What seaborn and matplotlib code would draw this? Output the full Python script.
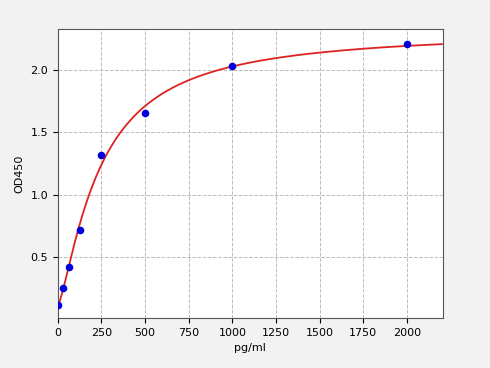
import numpy as np
import pandas as pd
import matplotlib
matplotlib.use("Agg")
import matplotlib.pyplot as plt
import seaborn as sns

conc = [0, 31.25, 62.5, 125, 250, 500, 1000, 2000]
od450 = [0.115, 0.25, 0.42, 0.72, 1.32, 1.655, 2.03, 2.21]

x = np.array(conc, float)
y = np.array(od450, float)

def f(p, xx):
    A, B, C, D = p
    return D + (A - D) / (1.0 + (np.maximum(xx, 1e-9) / C) ** B)

# Levenberg-Marquardt fit of a 4-parameter logistic curve
p = np.array([0.1, 1.0, 300.0, 2.5])
lam = 1e-3
for _ in range(500):
    r = y - f(p, x)
    J = np.zeros((len(x), 4))
    for i in range(4):
        dp = np.zeros(4); dp[i] = 1e-6 * max(abs(p[i]), 1e-3)
        J[:, i] = (f(p + dp, x) - f(p, x)) / dp[i]
    H = J.T @ J
    g = J.T @ r
    step = np.linalg.solve(H + lam * np.diag(np.diag(H)), g)
    pn = p + step
    if pn[2] > 0 and np.sum((y - f(pn, x)) ** 2) < np.sum(r ** 2):
        p = pn; lam *= 0.3
    else:
        lam *= 10

xf = np.linspace(0, 2200, 400)
fit = pd.DataFrame({"x": xf, "y": f(p, xf)})
pts = pd.DataFrame({"x": x, "y": y})

fig, ax = plt.subplots(figsize=(4.9, 3.68), dpi=100)
fig.patch.set_facecolor("#f2f2f2")
ax.set_facecolor("white")
sns.lineplot(data=fit, x="x", y="y", color="#dd2222", lw=1.3, ax=ax, zorder=2)
sns.scatterplot(data=pts, x="x", y="y", color="#0000dd", s=30, edgecolor="#0000dd", linewidth=0, ax=ax, zorder=3)
ax.set_xlim(0, 2206)
ax.set_ylim(0.011, 2.33)
ax.set_xticks([0, 250, 500, 750, 1000, 1250, 1500, 1750, 2000])
ax.set_yticks([0.5, 1.0, 1.5, 2.0])
ax.grid(True, ls="--", color="#bbbbbb", lw=0.7)
ax.set_axisbelow(True)
ax.set_xlabel("pg/ml", fontsize=8)
ax.set_ylabel("OD450", fontsize=8)
ax.tick_params(labelsize=8)
for s in ax.spines.values():
    s.set_color("#555555")
fig.subplots_adjust(left=0.118, right=0.904, top=0.921, bottom=0.136)
fig.savefig("out.png", dpi=100, facecolor=fig.get_facecolor())
